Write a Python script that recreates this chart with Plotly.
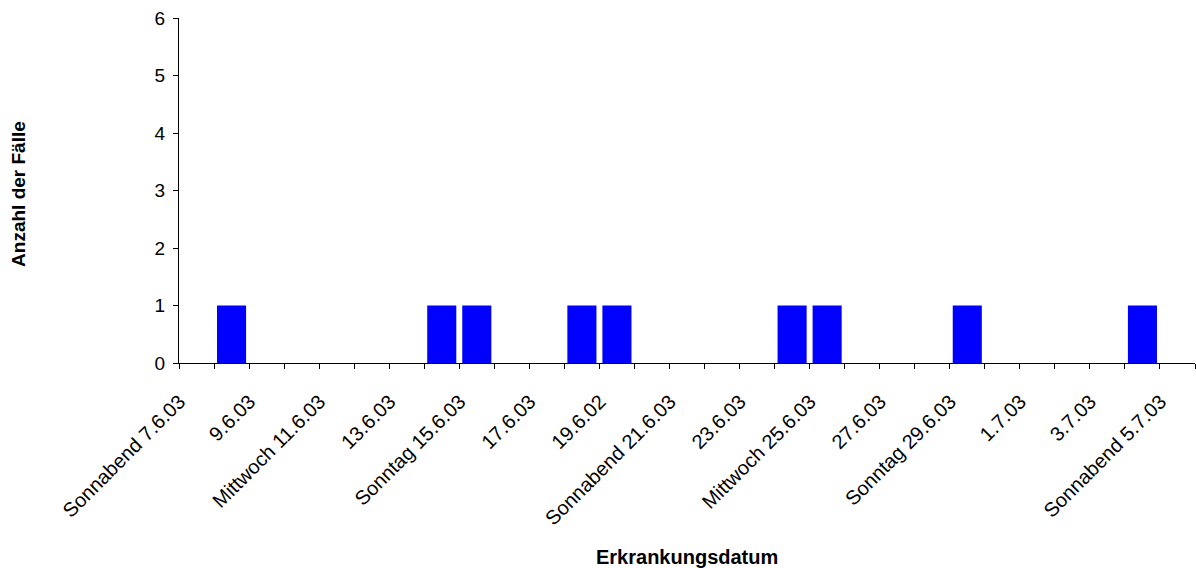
import plotly.graph_objects as go

# Categories (one per day), shown tick labels every second day
categories = [
    "Sonnabend 7.6.03", "8.6.03", "9.6.03", "10.6.03", "Mittwoch 11.6.03", "12.6.03",
    "13.6.03", "14.6.03", "Sonntag 15.6.03", "16.6.03", "17.6.03", "18.6.03",
    "19.6.02", "20.6.03", "Sonnabend 21.6.03", "22.6.03", "23.6.03", "24.6.03",
    "Mittwoch 25.6.03", "26.6.03", "27.6.03", "28.6.03", "Sonntag 29.6.03", "30.6.03",
    "1.7.03", "2.7.03", "3.7.03", "4.7.03", "Sonnabend 5.7.03",
]
cases = [
    0, 1, 0, 0, 0, 0,
    0, 1, 1, 0, 0, 1,
    1, 0, 0, 0, 0, 1,
    1, 0, 0, 0, 1, 0,
    0, 0, 0, 1, 0,
]
tick_text = [c if i % 2 == 0 else "" for i, c in enumerate(categories)]

x_title = "Erkrankungsdatum"
y_title = "Anzahl der Fälle"

FONT = "Liberation Sans, Arial, sans-serif"

fig = go.Figure(
    go.Bar(
        x=categories,
        y=cases,
        marker=dict(color="#0000FF", line=dict(width=0)),
        hoverinfo="skip",
    )
)

fig.update_layout(
    width=1196,
    height=568,
    margin=dict(l=179, r=1, t=18, b=205),
    paper_bgcolor="white",
    plot_bgcolor="white",
    bargap=0.17,
    showlegend=False,
    font=dict(family=FONT, size=19, color="black"),
)

fig.update_xaxes(
    type="category",
    categoryorder="array",
    categoryarray=categories,
    tickmode="array",
    tickvals=categories,
    ticktext=tick_text,
    tickson="boundaries",
    ticks="outside",
    ticklen=5,
    tickcolor="black",
    tickangle=-45,
    ticklabelshift=-17,
    ticklabelstandoff=18,
    tickfont=dict(family=FONT, size=20, color="black"),
    showline=True,
    linecolor="black",
    linewidth=1,
    showgrid=False,
    zeroline=False,
    automargin=False,
    fixedrange=True,
)

fig.update_yaxes(
    range=[0, 6],
    dtick=1,
    tick0=0,
    ticks="outside",
    ticklen=5,
    tickcolor="black",
    ticklabelstandoff=4,
    tickfont=dict(family=FONT, size=19, color="black"),
    showline=True,
    linecolor="black",
    linewidth=1,
    showgrid=False,
    zeroline=False,
    automargin=False,
    fixedrange=True,
)

fig.add_annotation(
    text="<b>" + x_title + "</b>",
    xref="paper", yref="paper",
    x=0.5, y=-0.562,
    xanchor="center", yanchor="middle",
    showarrow=False,
    font=dict(family=FONT, size=20, color="black"),
)
fig.add_annotation(
    text="<b>" + y_title + "</b>",
    xref="paper", yref="paper",
    x=-0.1575, y=0.49,
    xanchor="center", yanchor="middle",
    textangle=-90,
    showarrow=False,
    font=dict(family=FONT, size=19, color="black"),
)

fig.write_html(
    "out.html",
    config={"displayModeBar": False},
    post_script="document.body.style.margin='0px';",
)
